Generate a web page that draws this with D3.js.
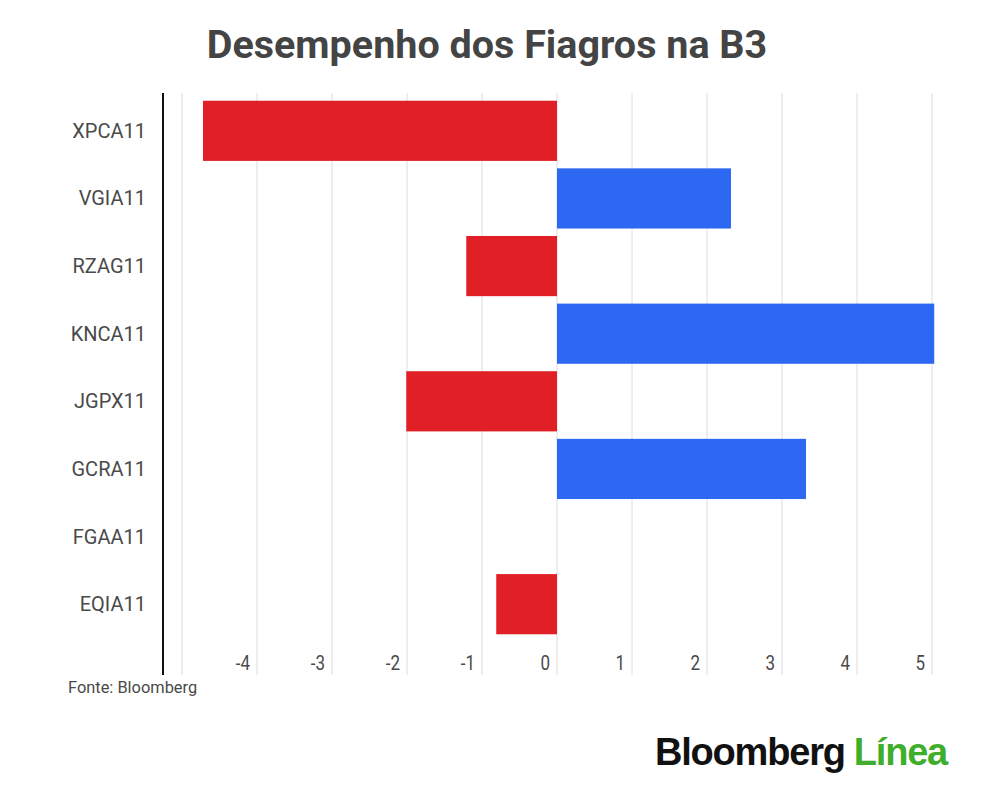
<!DOCTYPE html>
<html><head><meta charset="utf-8">
<script src="https://cdn.jsdelivr.net/npm/d3@7"></script>
<style>body{margin:0;background:#fff;} svg{display:block;}</style>
</head><body>
<script>
const categories = ["XPCA11","VGIA11","RZAG11","KNCA11","JGPX11","GCRA11","FGAA11","EQIA11"];
const values = [-4.72, 2.32, -1.21, 5.03, -2.01, 3.32, 0, -0.81];
const tickValues = [-4,-3,-2,-1,0,1,2,3,4,5];
const title = "Desempenho dos Fiagros na B3";
const source = "Fonte: Bloomberg";

const W = 1000, H = 799;
const svg = d3.select("body").append("svg").attr("width", W).attr("height", H);

const x = d3.scaleLinear().domain([-5, 5]).range([182, 932]);
const y = d3.scaleBand().domain(categories).range([97, 638]).paddingInner(0.11).paddingOuter(0.055);

// gridlines
svg.append("g").selectAll("line").data(d3.range(-5, 6)).join("line")
  .attr("x1", d => x(d)).attr("x2", d => x(d))
  .attr("y1", 93).attr("y2", 675)
  .attr("stroke", "#dcdcdc").attr("stroke-width", 1);

// bars
svg.append("g").selectAll("rect").data(categories).join("rect")
  .attr("x", (d, i) => x(Math.min(0, values[i])))
  .attr("width", (d, i) => Math.abs(x(values[i]) - x(0)))
  .attr("y", d => y(d))
  .attr("height", y.bandwidth())
  .attr("fill", (d, i) => values[i] < 0 ? "#e01f26" : "#2c68f2");

// axis line
svg.append("line").attr("x1", 163).attr("x2", 163).attr("y1", 93).attr("y2", 675)
  .attr("stroke", "#111").attr("stroke-width", 2);

// category labels
svg.append("g").selectAll("text").data(categories).join("text")
  .attr("x", 146).attr("y", d => y(d) + y.bandwidth() / 2)
  .attr("dy", "0.35em").attr("text-anchor", "end")
  .attr("font-family", "Roboto, sans-serif").attr("font-size", 20)
  .attr("fill", "#4a4a4a").text(d => d);

// tick labels (condensed look)
svg.append("g").selectAll("text").data(tickValues).join("text")
  .attr("transform", d => `translate(${x(d) - 7},670) scale(0.85,1)`)
  .attr("text-anchor", "end")
  .attr("font-family", "Roboto, sans-serif").attr("font-size", 20)
  .attr("fill", "#4a4a4a").text(d => d);

// title
svg.append("text").attr("x", 487).attr("y", 58).attr("text-anchor", "middle")
  .attr("font-family", "Roboto, sans-serif").attr("font-weight", "bold").attr("font-size", 39.5)
  .attr("fill", "#444").text(title);

// source
svg.append("text").attr("x", 68).attr("y", 693)
  .attr("font-family", "Roboto, sans-serif").attr("font-size", 16.4)
  .attr("fill", "#4a4a4a").text(source);

// logo
const logo = svg.append("text").attr("x", 655).attr("y", 765)
  .attr("font-family", "'Liberation Sans', Arial, sans-serif").attr("font-weight", "bold")
  .attr("font-size", 38).attr("letter-spacing", -1.2);
logo.append("tspan").attr("fill", "#111").text("Bloomberg");
logo.append("tspan").attr("fill", "#3fae2a").attr("dx", 9).text("Línea");
</script>
</body></html>
